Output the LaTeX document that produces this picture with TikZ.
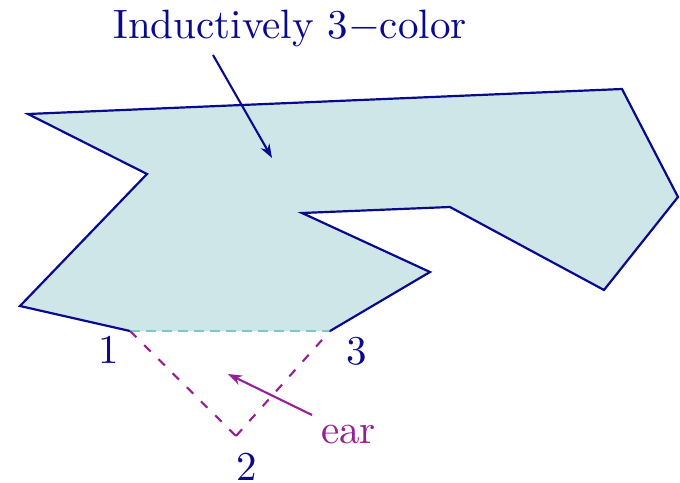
\documentclass[tikz,border=0pt]{standalone}
\usepackage{graphicx}
\usetikzlibrary{arrows.meta}
\definecolor{polyfill}{RGB}{206,230,232}
\definecolor{polyedge}{RGB}{10,10,140}
\definecolor{earcol}{RGB}{150,30,150}
\definecolor{diagcol}{RGB}{120,200,200}
\newcommand{\bigtxt}[1]{\scalebox{4.1}{\fontsize{10}{12}\selectfont #1}}
\tikzset{
  lbl/.style={inner sep=0pt, anchor=base},
  eardash/.style={draw=earcol, line width=2.1pt, dash pattern=on 9pt off 11pt},
  diagdash/.style={draw=diagcol, line width=2.1pt, dash pattern=on 10pt off 6pt},
  outline/.style={draw=polyedge, line width=2.2pt, line join=miter},
  pointer/.style={line width=2.1pt, -{Stealth[length=14pt,width=10pt]}}
}
\begin{document}
\begin{tikzpicture}[x=1pt,y=-1pt]
\useasboundingbox (0,0) rectangle (680,482);
% polygon vertices
\coordinate (pA) at (28,114);
\coordinate (pB) at (147,174);
\coordinate (pC) at (20,306);
\coordinate (v1) at (130,331);
\coordinate (v3) at (330,331);
\coordinate (pD) at (430,272);
\coordinate (pE) at (302,213);
\coordinate (pF) at (450,207);
\coordinate (pG) at (604,290);
\coordinate (pH) at (678,197);
\coordinate (pI) at (622,89);
\coordinate (v2) at (236,436);
% polygon: fill whole, outline all but diagonal
\fill[polyfill] (pA) -- (pB) -- (pC) -- (v1) -- (v3) -- (pD) -- (pE) -- (pF) -- (pG) -- (pH) -- (pI) -- cycle;
\draw[outline] (v1) -- (pC) -- (pB) -- (pA) -- (pI) -- (pH) -- (pG) -- (pF) -- (pE) -- (pD) -- (v3);
% diagonal
\draw[diagdash] (v1) -- (v3);
% ear
\draw[eardash] (v1) -- (v2);
\draw[eardash] (v2) -- (v3);
% labels
\node[lbl, text=polyedge] (t1) at (109,363) {\bigtxt{1}};
\node[lbl, text=polyedge] (t3) at (357,364) {\bigtxt{3}};
\node[lbl, text=polyedge] (t2) at (247,480) {\bigtxt{2}};
\node[lbl, text=earcol, anchor=base west] (tear) at (321,443) {\bigtxt{ear}};
\node[lbl, text=polyedge] (title) at (290,38) {\bigtxt{Inductively 3$-$color}};
% pointers
\coordinate (earTail) at (312,415);
\coordinate (earTip) at (228,374);
\draw[pointer, draw=earcol, fill=earcol] (earTail) -- (earTip);
\coordinate (tTail) at (213,55);
\coordinate (tTip) at (272,158);
\draw[pointer, draw=polyedge, fill=polyedge] (tTail) -- (tTip);
\end{tikzpicture}
\end{document}
